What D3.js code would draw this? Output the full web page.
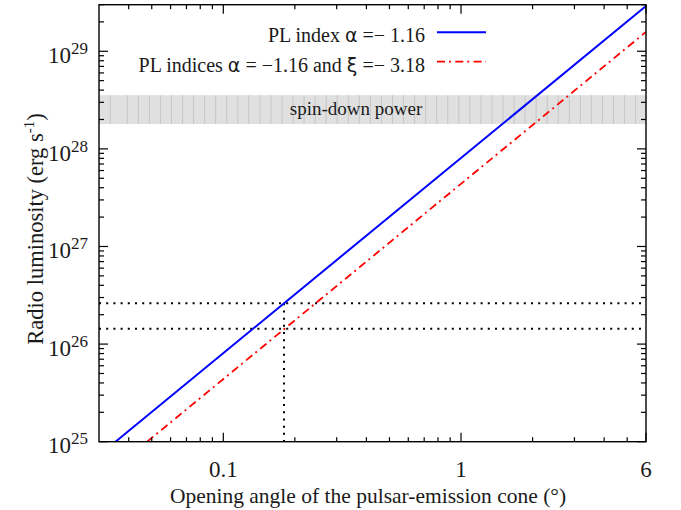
<!DOCTYPE html>
<html><head><meta charset="utf-8">
<script src="https://cdn.jsdelivr.net/npm/d3@7"></script>
<style>
html,body{margin:0;padding:0;background:#fff;}
svg text{font-family:"Liberation Serif","Times New Roman",serif;fill:#1a1a1a;}
</style></head>
<body><svg id="c" width="681" height="510"></svg>
<script>
// ---- data ----
const xDomain = [0.03, 6];
const yDomain = [1e25, 3e29];
const xMajorTicks = [0.1, 1, 6];
const xMajorLabels = ["0.1", "1", "6"];
const xMinorTicks = [0.04,0.05,0.06,0.07,0.08,0.09,0.2,0.3,0.4,0.5,0.6,0.7,0.8,0.9,2,3,4,5];
const yMajorTicks = [1e25, 1e26, 1e27, 1e28, 1e29];
const yMajorExponents = ["25", "26", "27", "28", "29"];
const spinDownPower = [1.8e28, 3.55e28];
const plIndex = [[0.0352, 1e25], [6, 2.91e29]];
const plIndices = [[0.0478, 1e25], [6, 1.58e29]];
const luminosityLevels = [2.62e26, 1.44e26];
const coneAngle = 0.18;

// ---- layout ----
const L = 99, R = 646, T = 4.7, B = 441.7;
const serif = '"Liberation Serif","Times New Roman",serif';
const svg = d3.select("#c");
const x = d3.scaleLog().domain(xDomain).range([L, R]);
const y = d3.scaleLog().domain(yDomain).range([B, T]);

svg.append("defs").append("clipPath").attr("id","clip")
  .append("rect").attr("x",L).attr("y",T).attr("width",R-L).attr("height",B-T);

// spin-down band
const bandTop = y(spinDownPower[1]), bandBot = y(spinDownPower[0]);
const band = svg.append("g").attr("clip-path","url(#clip)");
band.append("rect").attr("x",L).attr("y",bandTop).attr("width",R-L).attr("height",bandBot-bandTop)
  .attr("fill","#e0e0e0");
const stripes = [110.3];
for (let sx = 127.3; sx < R; sx += 11.05) stripes.push(sx);
band.selectAll("line.stripe").data(stripes).enter().append("line")
  .attr("x1",d=>d).attr("x2",d=>d).attr("y1",bandTop).attr("y2",bandBot)
  .attr("stroke","#c6c6c6").attr("stroke-width",1);
svg.append("text").attr("x",356).attr("y",115).attr("text-anchor","middle")
  .attr("font-family",serif).attr("font-size",19).text("spin-down power");

// dotted guide lines
const guides = svg.append("g").attr("clip-path","url(#clip)");
guides.selectAll("line.h").data(luminosityLevels).enter().append("line")
  .attr("x1",L).attr("x2",R).attr("y1",d=>y(d)).attr("y2",d=>y(d))
  .attr("stroke","#000").attr("stroke-width",2).attr("stroke-dasharray","2,5.2");
guides.append("line").attr("x1",x(coneAngle)).attr("x2",x(coneAngle))
  .attr("y1",y(luminosityLevels[0])).attr("y2",B)
  .attr("stroke","#000").attr("stroke-width",2).attr("stroke-dasharray","2,5.2");

// lines
const line = d3.line().x(d=>x(d[0])).y(d=>y(d[1]));
const lines = svg.append("g").attr("clip-path","url(#clip)");
lines.append("path").datum(plIndex).attr("d",line).attr("fill","none")
  .attr("stroke","#0000ff").attr("stroke-width",2);
lines.append("path").datum(plIndices).attr("d",line).attr("fill","none")
  .attr("stroke","#ff0000").attr("stroke-width",1.8).attr("stroke-dasharray","8,4,2,4.3");

// ticks (inward, mirrored)
const tk = svg.append("g").attr("stroke","#000").attr("stroke-width",1.2);
function xt(v, len){
  tk.append("line").attr("x1",x(v)).attr("x2",x(v)).attr("y1",B).attr("y2",B-len);
  tk.append("line").attr("x1",x(v)).attr("x2",x(v)).attr("y1",T).attr("y2",T+len);
}
function yt(v, len){
  tk.append("line").attr("y1",y(v)).attr("y2",y(v)).attr("x1",L).attr("x2",L+len);
  tk.append("line").attr("y1",y(v)).attr("y2",y(v)).attr("x1",R).attr("x2",R-len);
}
xMajorTicks.forEach(v=>xt(v,9));
xMinorTicks.forEach(v=>xt(v,4.5));
yMajorTicks.forEach(v=>yt(v,9));
const yMinor = [];
yMajorTicks.forEach(d=>{ for(let k=2;k<=9;k++){ const v=d*k; if(v<=yDomain[1]) yMinor.push(v);} });
yMinor.forEach(v=>yt(v,5));

// frame
svg.append("rect").attr("x",L).attr("y",T).attr("width",R-L).attr("height",B-T)
  .attr("fill","none").attr("stroke","#000").attr("stroke-width",1.4);

// tick labels
svg.selectAll("text.xl").data(xMajorTicks).enter().append("text")
  .attr("x",d=>x(d)).attr("y",477).attr("text-anchor","middle")
  .attr("font-family",serif).attr("font-size",23)
  .text((d,i)=>xMajorLabels[i]);
const yl = svg.selectAll("text.yl").data(yMajorTicks).enter().append("text")
  .attr("x",88).attr("y",d=>y(d)+11.7).attr("text-anchor","end")
  .attr("font-family",serif).attr("font-size",23);
yl.append("tspan").text("10");
yl.append("tspan").attr("dy",-9).attr("font-size",17).text((d,i)=>yMajorExponents[i]);

// axis titles
svg.append("text").attr("x",368).attr("y",503).attr("text-anchor","middle")
  .attr("font-family",serif).attr("font-size",21.5)
  .text("Opening angle of the pulsar-emission cone (°)");
const yt2 = svg.append("text").attr("transform","translate(43,229) rotate(-90)")
  .attr("text-anchor","middle").attr("font-family",serif).attr("font-size",22.5);
yt2.append("tspan").text("Radio luminosity (erg s");
yt2.append("tspan").attr("dy",-9).attr("font-size",15).text("-1");
yt2.append("tspan").attr("dy",9).text(")");

// legend
const greek = '"DejaVu Sans",sans-serif';
const lg1 = svg.append("text").attr("x",425).attr("y",42.3).attr("text-anchor","end")
  .attr("font-family",serif).attr("font-size",20);
lg1.append("tspan").text("PL index ");
lg1.append("tspan").attr("font-family",greek).attr("font-size",19).text("α");
lg1.append("tspan").text(" =− 1.16");
const lg2 = svg.append("text").attr("x",425).attr("y",72.3).attr("text-anchor","end")
  .attr("font-family",serif).attr("font-size",20);
lg2.append("tspan").text("PL indices ");
lg2.append("tspan").attr("font-family",greek).attr("font-size",19).text("α");
lg2.append("tspan").text(" = −1.16 and ");
lg2.append("tspan").attr("font-family",greek).attr("font-size",19).text("ξ");
lg2.append("tspan").text(" =− 3.18");
svg.append("line").attr("x1",437).attr("x2",486).attr("y1",32.3).attr("y2",32.3)
  .attr("stroke","#0000ff").attr("stroke-width",2);
svg.append("line").attr("x1",437).attr("x2",486).attr("y1",61.7).attr("y2",61.7)
  .attr("stroke","#ff0000").attr("stroke-width",1.8).attr("stroke-dasharray","8,4,2,4.3");
</script></body></html>
